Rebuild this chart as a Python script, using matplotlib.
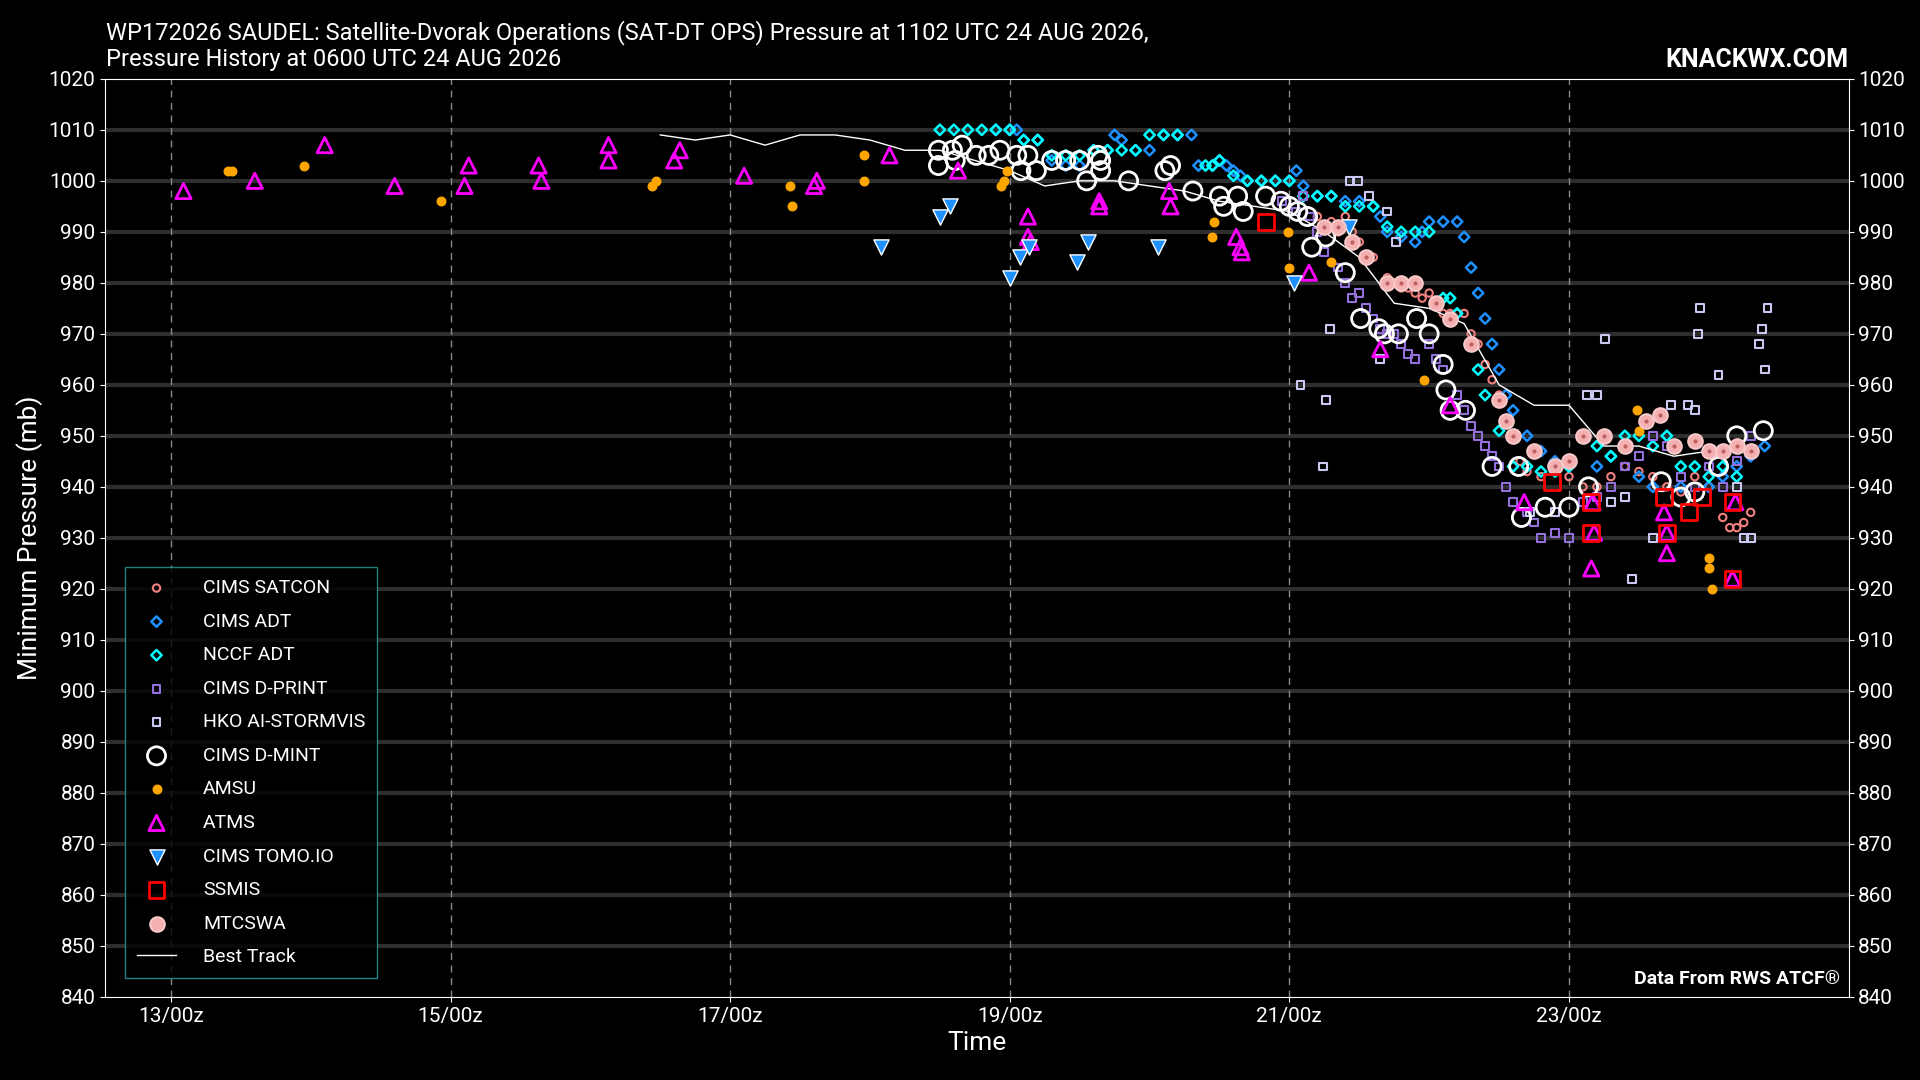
import numpy as np
import matplotlib.pyplot as plt
from matplotlib.ticker import FixedLocator, FuncFormatter

plt.rcParams['font.family'] = ['Roboto', 'DejaVu Sans']

# times are day of August 2026 (fractional, UTC), pressures in mb
best_t = [16.5, 16.75, 17.0, 17.25, 17.5, 17.75, 18.0, 18.25, 18.5, 18.75, 19.0, 19.25, 19.5, 19.75,
          20.0, 20.25, 20.5, 20.75, 21.0, 21.25, 21.5, 21.75, 22.0, 22.25, 22.5, 22.75, 23.0, 23.25,
          23.5, 23.75, 24.0, 24.25]
best_p = [1009, 1008, 1009, 1007, 1009, 1009, 1008, 1006, 1006, 1004, 1002, 999, 1000, 1000,
          999, 998, 996, 995, 994, 990, 985, 976, 975, 972, 960, 956, 956, 948,
          948, 946, 947, 948]

atms_t = [13.09, 13.6, 14.1, 14.6, 15.1, 15.13, 15.63, 15.65, 16.13, 16.13, 16.6, 16.64, 17.1, 17.6,
          17.62, 18.14, 18.63, 19.13, 19.13, 19.15, 19.64, 19.64, 20.14, 20.15, 20.62, 20.65, 20.66,
          21.14, 21.65, 22.15, 22.68, 23.16, 23.18, 23.17, 23.7, 23.7, 23.68, 24.19, 24.17]
atms_p = [998, 1000, 1007, 999, 999, 1003, 1003, 1000, 1007, 1004, 1004, 1006, 1001, 999,
          1000, 1005, 1002, 993, 989, 988, 996, 995, 998, 995, 989, 987, 986,
          982, 967, 956, 937, 924, 931, 937, 927, 931, 935, 937, 922]

tomo_t = [18.08, 18.5, 18.57, 19.0, 19.07, 19.14, 19.48, 19.56, 20.06, 21.03, 21.43]
tomo_p = [987, 993, 995, 981, 985, 987, 984, 988, 987, 980, 991]

amsu_t = [13.41, 13.44, 13.95, 14.93, 16.44, 16.47, 17.44, 17.43, 17.96, 17.96, 18.94, 18.96, 18.98,
          20.46, 20.45, 20.99, 21.0, 21.3, 21.96, 23.49, 23.5, 24.0, 24.0, 24.02]
amsu_p = [1002, 1002, 1003, 996, 999, 1000, 995, 999, 1005, 1000, 999, 1000, 1002,
          992, 989, 990, 983, 984, 961, 955, 951, 926, 924, 920]

ssmis_t = [20.83, 22.88, 23.16, 23.16, 23.7, 23.86, 23.95, 24.17, 24.17, 23.68]
ssmis_p = [992, 941, 931, 937, 931, 935, 938, 937, 922, 938]

dmint_t = [18.49, 18.49, 18.59, 18.61, 18.66, 18.76, 18.85, 18.93, 19.05, 19.08, 19.13, 19.19, 19.3,
           19.4, 19.5, 19.55, 19.63, 19.65, 19.65, 19.85, 20.11, 20.15, 20.31, 20.5, 20.53, 20.63,
           20.67, 20.83, 20.94, 21.0, 21.06, 21.13, 21.16, 21.26, 21.4, 21.51, 21.64, 21.68, 21.78,
           21.91, 22.0, 22.1, 22.12, 22.15, 22.26, 22.45, 22.64, 22.66, 22.83, 23.0, 23.14, 23.66,
           23.8, 23.9, 24.07, 24.2, 24.39]
dmint_p = [1006, 1003, 1006, 1004, 1007, 1005, 1005, 1006, 1005, 1002, 1005, 1002, 1004,
           1004, 1004, 1000, 1005, 1004, 1002, 1000, 1002, 1003, 998, 997, 995, 997,
           994, 997, 996, 995, 994, 993, 987, 989, 982, 973, 971, 970, 970,
           973, 970, 964, 959, 955, 955, 944, 944, 934, 936, 936, 940, 941,
           938, 939, 944, 950, 951]

adt_t = [18.9, 19.0, 19.05, 19.1, 19.2, 19.3, 19.4, 19.5, 19.6, 19.7, 19.75, 19.8, 19.9, 20.0, 20.1,
         20.2, 20.3, 20.35, 20.45, 20.5, 20.55, 20.6, 20.65, 20.7, 20.8, 20.9, 21.0, 21.05, 21.1, 21.2,
         21.3, 21.4, 21.5, 21.6, 21.65, 21.7, 21.8, 21.9, 21.95, 22.0, 22.1, 22.2, 22.25, 22.3, 22.35,
         22.4, 22.45, 22.5, 22.55, 22.6, 22.7, 22.8, 22.9, 23.0, 23.2, 23.3, 23.5, 23.6, 23.8, 24.0,
         24.1, 24.2, 24.3, 24.4]
adt_p = [1010, 1010, 1010, 1008, 1008, 1004, 1003, 1003, 1006, 1006, 1009, 1008, 1006, 1006, 1009,
         1009, 1009, 1003, 1003, 1004, 1003, 1002, 1001, 1000, 1000, 1000, 1000, 1002, 999, 997,
         997, 996, 996, 995, 993, 990, 989, 988, 990, 992, 992, 992, 989, 983, 978,
         973, 968, 963, 958, 955, 950, 947, 945, 944, 944, 946, 942, 940, 940, 940,
         942, 944, 946, 948]

nccf_t = [18.5, 18.6, 18.7, 18.8, 18.9, 19.0, 19.1, 19.2, 19.3, 19.4, 19.5, 19.6, 19.7, 19.8, 19.9,
          20.0, 20.1, 20.2, 20.4, 20.45, 20.5, 20.6, 20.7, 20.8, 20.9, 21.0, 21.1, 21.2, 21.3, 21.4,
          21.5, 21.6, 21.7, 21.8, 21.9, 22.0, 22.1, 22.15, 22.2, 22.3, 22.35, 22.4, 22.5, 22.6, 22.7,
          22.8, 22.9, 23.0, 23.1, 23.2, 23.3, 23.4, 23.5, 23.6, 23.7, 23.8, 23.9, 24.0, 24.1, 24.2]
nccf_p = [1010, 1010, 1010, 1010, 1010, 1010, 1008, 1008, 1005, 1005, 1005, 1006, 1006, 1006, 1006,
          1009, 1009, 1009, 1003, 1003, 1004, 1001, 1000, 1000, 1000, 1000, 997, 997, 997, 995,
          995, 995, 991, 990, 990, 990, 977, 977, 974, 968, 963, 958, 951, 944, 944,
          943, 943, 944, 950, 948, 946, 950, 950, 948, 950, 944, 944, 942, 944, 942]

satcon_t = [21.2, 21.25, 21.3, 21.35, 21.4, 21.45, 21.5, 21.6, 21.7, 21.75, 21.8, 21.85, 21.9, 21.95,
            22.0, 22.05, 22.1, 22.15, 22.2, 22.25, 22.3, 22.35, 22.4, 22.45, 22.5, 22.55, 22.6, 22.65,
            22.7, 22.8, 22.9, 23.0, 23.1, 23.2, 23.3, 23.4, 23.5, 23.6, 23.7, 23.8, 23.9, 24.0, 24.1,
            24.15, 24.2, 24.25, 24.3]
satcon_p = [993, 991, 992, 990, 993, 990, 988, 985, 981, 980, 979, 979, 978, 977,
            978, 976, 974, 974, 974, 974, 970, 968, 964, 961, 958, 953, 950, 945,
            943, 942, 943, 942, 940, 940, 942, 944, 943, 942, 940, 939, 942, 940, 934,
            932, 932, 933, 935]

mtcswa_t = [21.25, 21.35, 21.45, 21.55, 21.7, 21.8, 21.9, 22.05, 22.15, 22.3, 22.5, 22.55, 22.6, 22.75,
            22.9, 23.0, 23.1, 23.25, 23.4, 23.55, 23.65, 23.75, 23.9, 24.0, 24.1, 24.2, 24.3]
mtcswa_p = [991, 991, 988, 985, 980, 980, 980, 976, 973, 968, 957, 953, 950, 947,
            944, 945, 950, 950, 948, 953, 954, 948, 949, 947, 947, 948, 947]

dprint_t = [20.95, 21.05, 21.1, 21.15, 21.2, 21.25, 21.35, 21.4, 21.45, 21.5, 21.55, 21.6, 21.65, 21.7,
            21.75, 21.8, 21.85, 21.9, 22.0, 22.05, 22.1, 22.2, 22.25, 22.3, 22.35, 22.4, 22.45, 22.5,
            22.55, 22.6, 22.7, 22.75, 22.8, 22.9, 23.0, 23.1, 23.2, 23.3, 23.4, 23.5, 23.6, 23.7, 23.8,
            23.9, 24.0, 24.1, 24.2, 24.3]
dprint_p = [996, 994, 997, 993, 990, 986, 983, 980, 977, 978, 975, 973, 971, 970,
            970, 968, 966, 965, 968, 965, 963, 958, 955, 952, 950, 948, 946, 944,
            940, 937, 935, 933, 930, 931, 930, 937, 938, 940, 944, 946, 950, 948, 942,
            940, 944, 940, 945, 950]

hko_t = [21.08, 21.24, 21.26, 21.29, 21.43, 21.49, 21.57, 21.76, 21.65, 21.7, 22.72, 22.9, 23.13, 23.2,
         23.26, 23.3, 23.4, 23.45, 23.6, 23.73, 23.85, 23.9, 23.92, 23.94, 24.07, 24.2, 24.25, 24.3,
         24.36, 24.38, 24.4, 24.42]
hko_p = [960, 944, 957, 971, 1000, 1000, 997, 988, 965, 994, 935, 935, 958, 958,
         969, 937, 938, 922, 930, 956, 956, 955, 970, 975, 962, 940, 930, 930,
         968, 971, 963, 975]

fig = plt.figure(figsize=(19.2, 10.8), dpi=100, facecolor='black')
ax = fig.add_axes([0.0548, 0.077, 0.908, 0.85])
ax.set_facecolor('black')

ax.set_xlim(12.53, 25.0)
ax.set_ylim(840, 1020)
ax.yaxis.set_major_locator(FixedLocator(np.arange(840, 1021, 10)))
ax.xaxis.set_major_locator(FixedLocator([13, 15, 17, 19, 21, 23]))
ax.xaxis.set_major_formatter(FuncFormatter(lambda v, p: f"{int(round(v))}/00z"))

for y in range(850, 1020, 10):
    ax.axhline(y, color='#2e2e2e', lw=3, zorder=0)
for x in [13, 15, 17, 19, 21, 23]:
    ax.axvline(x, color='#888888', lw=1, ls=(0, (5, 4)), zorder=0)

ax.scatter(satcon_t, satcon_p, s=28, marker='o', facecolor='none', edgecolor='#f08080', lw=1.5, label='CIMS SATCON', zorder=3)
ax.scatter(adt_t, adt_p, s=28, marker='D', facecolor='none', edgecolor='#1e90ff', lw=1.8, label='CIMS ADT', zorder=3)
ax.scatter(nccf_t, nccf_p, s=28, marker='D', facecolor='none', edgecolor='#00ffff', lw=1.8, label='NCCF ADT', zorder=3)
ax.scatter(dprint_t, dprint_p, s=32, marker='s', facecolor='none', edgecolor='#9370db', lw=1.5, label='CIMS D-PRINT', zorder=3)
ax.scatter(hko_t, hko_p, s=32, marker='s', facecolor='none', edgecolor='#c8c8f0', lw=1.5, label='HKO AI-STORMVIS', zorder=3)
ax.scatter(dmint_t, dmint_p, s=170, marker='o', facecolor='none', edgecolor='white', lw=2, label='CIMS D-MINT', zorder=4)
ax.scatter(amsu_t, amsu_p, s=38, marker='o', color='#ffa500', label='AMSU', zorder=4)
ax.scatter(atms_t, atms_p, s=120, marker='^', facecolor='none', edgecolor='#ff00ff', lw=2, label='ATMS', zorder=4)
ax.scatter(tomo_t, tomo_p, s=120, marker='v', facecolor='#1e90ff', edgecolor='white', lw=1, label='CIMS TOMO.IO', zorder=4)
ax.scatter(ssmis_t, ssmis_p, s=130, marker='s', facecolor='none', edgecolor='red', lw=2, label='SSMIS', zorder=5)
ax.scatter(mtcswa_t, mtcswa_p, s=110, marker='o', facecolor='#f4b0b0', edgecolor='#f8c8c8', lw=1.5, label='MTCSWA', zorder=4)
ax.scatter(mtcswa_t, mtcswa_p, s=4, marker='o', color='#c06060', zorder=4)
ax.plot(best_t, best_p, color='white', lw=1, label='Best Track', zorder=3)

for sp in ['top', 'bottom', 'left', 'right']:
    ax.spines[sp].set_color('white')
ax.tick_params(colors='white', labelsize=15, right=True, labelright=True, direction='out')
ax.set_xlabel('Time', color='white', fontsize=19)
ax.set_ylabel('Minimum Pressure (mb)', color='white', fontsize=19)

leg = ax.legend(loc='lower left', fontsize=14, frameon=True, facecolor='black', edgecolor='#2aa0a0',
                framealpha=0.8, labelspacing=0.8, borderpad=0.6, handletextpad=1.4, fancybox=False,
                bbox_to_anchor=(0.006, 0.01))
for t in leg.get_texts():
    t.set_color('white')

fig.text(0.055, 0.934, 'WP172026 SAUDEL: Satellite-Dvorak Operations (SAT-DT OPS) Pressure at 1102 UTC 24 AUG 2026,\nPressure History at 0600 UTC 24 AUG 2026',
         color='white', fontsize=17, ha='left', va='bottom', linespacing=1.2)
fig.text(0.963, 0.933, 'KNACKWX.COM', color='white', fontsize=18, fontweight='bold', ha='right', va='bottom')
ax.text(0.995, 0.01, 'Data From RWS ATCF®', color='white', fontsize=14, fontweight='bold',
        ha='right', va='bottom', transform=ax.transAxes)

fig.savefig('out.png', dpi=100, facecolor='black')
